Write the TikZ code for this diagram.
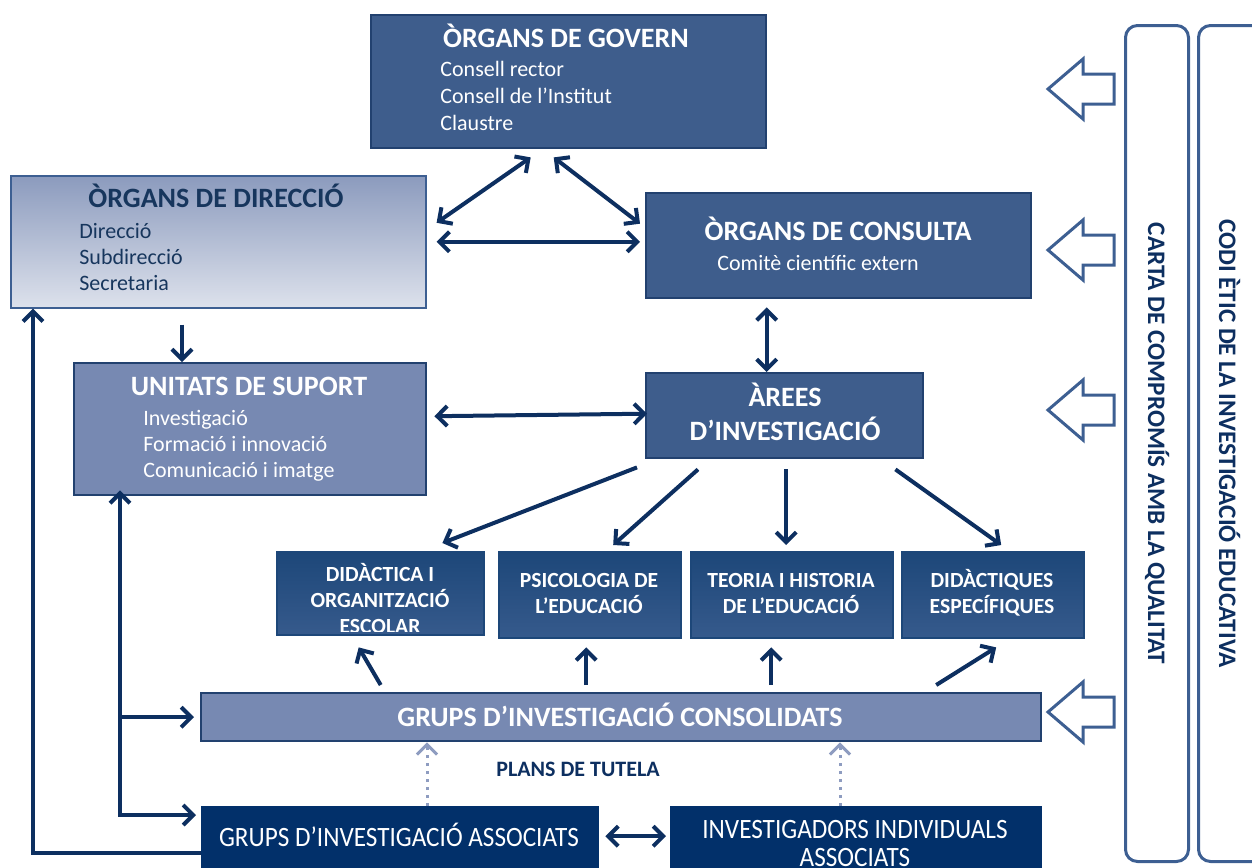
\documentclass[tikz,border=0pt]{standalone}
\usepackage{fontspec}
\setmainfont{Carlito}
\newfontfamily\narrowfont[FakeStretch=0.9]{Carlito}
\usetikzlibrary{arrows.meta}

\definecolor{navy}{HTML}{0D2F60}
\definecolor{boxblue}{HTML}{3E5D8C}
\definecolor{boxline}{HTML}{22416F}
\definecolor{paleblue}{HTML}{7789B2}
\definecolor{deepnavy}{HTML}{02306A}
\definecolor{depttop}{HTML}{1D4779}
\definecolor{deptbot}{HTML}{365A8C}
\definecolor{dotblue}{HTML}{8E9CC0}
\definecolor{textnavy}{HTML}{17365D}
\definecolor{sideblue}{HTML}{3D5F92}

\tikzset{
  box/.style={draw=boxline, line width=1.2pt, anchor=north west, inner sep=0pt},
  dark/.style={box, fill=boxblue},
  pale/.style={box, fill=paleblue},
  light/.style={box, draw=sideblue, line width=0.8pt, top color=paleblue!85, bottom color=paleblue!25},
  dept/.style={box, draw=depttop, top color=depttop, bottom color=deptbot},
  deep/.style={box, draw=deepnavy, fill=deepnavy},
  side/.style={draw=sideblue, line width=1.5pt, rounded corners=6pt, anchor=north west, inner sep=0pt},
  head/.style={font=\bfseries\fontsize{14}{17}\selectfont, text=white, anchor=base, inner sep=0pt},
  items/.style={font=\fontsize{11}{13.5}\selectfont, text=white, align=left, anchor=base west, inner sep=0pt},
  dtxt/.style={font=\bfseries\fontsize{10.8}{13}\selectfont, text=white, align=center, anchor=base, inner sep=0pt},
  sidetxt/.style={font=\bfseries\fontsize{12.6}{14}\selectfont, text=navy, rotate=-90, inner sep=0pt},
  dots/.style={draw=dotblue, line width=1.5pt, dash pattern=on 1.5pt off 2.5pt, ->},
  conn/.style={draw=navy, line width=2pt},
  every edge/.style={conn}
}

\begin{document}
\begin{tikzpicture}[x=0.5pt,y=-0.5pt,>={Straight Barb[length=5pt,width=10pt]}]
\useasboundingbox (0,0) rectangle (1252,867);

% boxes
\node[dark, minimum width=197.5pt, minimum height=66.5pt] (gov) at (370,14) {};
\node[light, minimum width=207.5pt, minimum height=66pt] (dir) at (10,175) {};
\node[dark, minimum width=192.5pt, minimum height=52.5pt] (cons) at (645,192) {};
\node[pale, minimum width=176pt, minimum height=66pt] (unit) at (73,362) {};
\node[dark, minimum width=138.5pt, minimum height=42.5pt] (area) at (645,372) {};
\node[dept, minimum width=103.5pt, minimum height=41.5pt] (did) at (276,551) {};
\node[dept, minimum width=91pt, minimum height=43pt] (psi) at (498,551) {};
\node[dept, minimum width=101pt, minimum height=43pt] (teo) at (690,551) {};
\node[dept, minimum width=91pt, minimum height=43pt] (esp) at (901,551) {};
\node[pale, minimum width=420pt, minimum height=24pt] (gic) at (200,692) {};
\node[deep, minimum width=198pt, minimum height=46pt] (gia) at (201,806) {};
\node[deep, minimum width=185pt, minimum height=46pt] (ind) at (670,806) {};
\node[side, minimum width=31.5pt, minimum height=418pt] (carta) at (1124,24) {};
\node[side, minimum width=40pt, minimum height=418pt] (codi) at (1197,24) {};

% texts (multi-line nodes sit on their last baseline)
\node[head] (govT) at (566,47) {ÒRGANS DE GOVERN};
\node[items] (govL) at (440,130) {Consell rector\\Consell de l’Institut\\Claustre};
\node[head, text=textnavy] (dirT) at (216,207) {ÒRGANS DE DIRECCIÓ};
\node[items, text=textnavy, font=\fontsize{11}{13}\selectfont] (dirL) at (79,290) {Direcció\\Subdirecció\\Secretaria};
\node[head] (consT) at (838,240) {ÒRGANS DE CONSULTA};
\node[items] (consL) at (717,270) {Comitè científic extern};
\node[head] (unitT) at (249,395) {UNITATS DE SUPORT};
\node[items, font=\fontsize{11}{13}\selectfont] (unitL) at (143,477) {Investigació\\Formació i innovació\\Comunicació i imatge};
\node[head, align=center] (areaT) at (785,440) {ÀREES\\D’INVESTIGACIÓ};
\begin{scope}
\clip (did.north west) rectangle ([yshift=2.5pt]did.south east);
\node[dtxt] (didT) at (380,633) {DIDÀCTICA I\\ORGANITZACIÓ\\ESCOLAR};
\end{scope}
\node[dtxt] (psiT) at (589,613) {PSICOLOGIA DE\\L’EDUCACIÓ};
\node[dtxt] (teoT) at (791,613) {TEORIA I HISTORIA\\DE L’EDUCACIÓ};
\node[dtxt] (espT) at (992,613) {DIDÀCTIQUES\\ESPECÍFIQUES};
\node[head, font=\bfseries\fontsize{14}{16}\selectfont] (gicT) at (620,726) {GRUPS D’INVESTIGACIÓ CONSOLIDATS};
\node[head, font=\narrowfont\fontsize{14}{16}\selectfont] (giaT) at (399,846) {GRUPS D’INVESTIGACIÓ ASSOCIATS};
\node[head, align=center, font=\narrowfont\fontsize{14}{14}\selectfont] (indT) at (855,866) {INVESTIGADORS INDIVIDUALS\\ASSOCIATS};
\node[head, text=navy, font=\bfseries\fontsize{11}{12}\selectfont] (plans) at (578,776) {PLANS DE TUTELA};
\node[sidetxt] (cartaT) at (carta.center) {CARTA DE COMPROMÍS AMB LA QUALITAT};
\node[sidetxt] (codiT) at ([xshift=-4.5pt]codi.center) {CODI ÈTIC DE LA INVESTIGACIÓ EDUCATIVA};

% hollow arrows from the side columns
\foreach \y in {89,250,410,712}
  \draw[draw=sideblue, line width=1.5pt, fill=white] (1048,\y) -- (1083,\y-30) -- (1083,\y-15)
    -- (1114,\y-15) -- (1114,\y+15) -- (1083,\y+15) -- (1083,\y+30) -- cycle;

% connectors
\path ([shift={(-19pt,-4pt)}]gov.south) edge[<->] ([shift={(5pt,9.5pt)}]dir.east);
\path ([shift={(-7.5pt,-4pt)}]gov.south) edge[<->] ([shift={(-2.5pt,11pt)}]cons.west);
\path ([xshift=5pt]dir.east) edge[<->] ([xshift=-2.5pt]dir.east -| cons.west);
\path ([shift={(-9pt,-4pt)}]area.north |- cons.south) edge[<->] ([xshift=-9pt]area.north);
\path ([shift={(86pt,-8pt)}]dir.south west) edge[->] ([xshift=86pt]dir.south west |- unit.north);
\path ([shift={(3.5pt,6.5pt)}]unit.east) edge[<->] ([shift={(1pt,1pt)}]area.west);
\path ([shift={(-4pt,-4pt)}]area.south west) edge[->] ([shift={(-21.5pt,4pt)}]did.north east);
\path ([shift={(26.5pt,-5pt)}]area.south west) edge[->] ([shift={(11.5pt,3pt)}]psi.north);
\path ([shift={(-3pt,-5pt)}]teo.north |- area.south) edge[->] ([shift={(-3pt,3pt)}]teo.north);
\path ([shift={(-14.5pt,-5pt)}]area.south east) edge[->] ([shift={(4pt,3pt)}]esp.north);
\path ([yshift=3.5pt]did.south |- gic.north) edge[->] ([shift={(-11pt,-5.5pt)}]did.south);
\path ([shift={(-2pt,3.5pt)}]psi.south |- gic.north) edge[->] ([shift={(-2pt,-4pt)}]psi.south);
\path ([shift={(-10.5pt,3.5pt)}]teo.south |- gic.north) edge[->] ([shift={(-10.5pt,-4pt)}]teo.south);
\path ([shift={(-28.5pt,3.5pt)}]esp.south |- gic.north) edge[->] ([shift={(1.5pt,-4pt)}]esp.south);
\path ([shift={(3pt,8.5pt)}]gia.east) edge[<->] ([shift={(-2pt,8.5pt)}]ind.west);
\path ([xshift=113pt]gia.north west) edge[dots] ([xshift=113pt]gia.north west |- gic.south);
\path ([xshift=85pt]ind.north west) edge[dots] ([xshift=85pt]ind.north west |- gic.south);
\draw[conn,->] (gia.west) -| ([xshift=11.5pt]dir.south west);
\draw[conn,<->,shorten <=-3pt] ([xshift=23.5pt]unit.south west) |- ([shift={(-2.5pt,-4.5pt)}]gia.north west);
\draw[conn,->] ([xshift=23.5pt]unit.south west |- gic.west) -- ([xshift=-3pt]gic.west);
\end{tikzpicture}
\end{document}
